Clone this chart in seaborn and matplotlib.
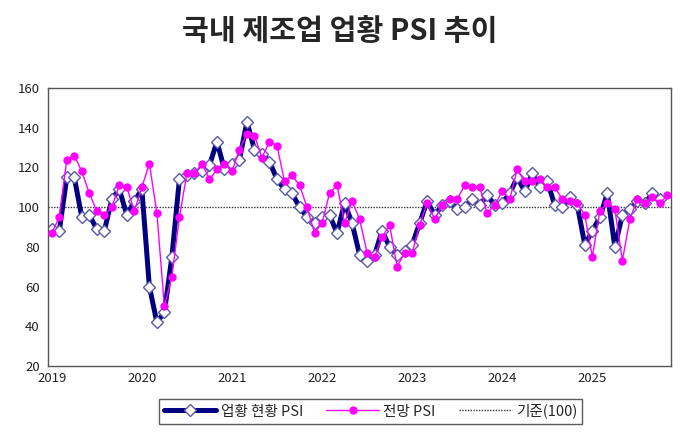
import numpy as np
import pandas as pd
import matplotlib.pyplot as plt
import seaborn as sns

# 업황 PSI, monthly from Jan 2019 (current reaches Oct 2025, outlook Nov 2025)
years = ["2019", "2020", "2021", "2022", "2023", "2024", "2025"]
current_psi = [89, 88, 115, 115, 95, 96, 89, 88, 104, 109, 96, 103,
               109, 60, 42, 47, 75, 114, 116, 117, 118, 121, 133, 119,
               122, 124, 143, 129, 127, 123, 114, 109, 107, 100, 95, 92,
               95, 96, 87, 102, 92, 76, 73, 76, 88, 80, 76, 78,
               81, 92, 103, 96, 101, 103, 99, 100, 104, 101, 106, 101,
               102, 107, 115, 108, 117, 110, 113, 101, 100, 105, 101, 81,
               88, 95, 107, 80, 96, 99, 103, 102, 107, 104]
outlook_psi = [87, 95, 124, 126, 118, 107, 98, 96, 100, 111, 110, 98,
               110, 122, 97, 50, 65, 95, 117, 117, 122, 114, 119, 122,
               118, 129, 137, 136, 125, 133, 131, 113, 116, 111, 100, 87,
               92, 107, 111, 92, 103, 94, 77, 75, 85, 91, 70, 77,
               77, 91, 102, 94, 101, 104, 104, 111, 110, 110, 97, 101,
               108, 104, 119, 113, 113, 114, 110, 110, 104, 103, 102, 96,
               75, 98, 102, 99, 73, 94, 104, 102, 105, 102, 106]
baseline = 100

n = len(outlook_psi)
df = pd.DataFrame({"month": np.arange(n), "outlook": outlook_psi})
df["current"] = pd.Series(current_psi, dtype=float)

sns.set_style("white")
plt.rcParams["font.family"] = ["Noto Sans CJK KR", "DejaVu Sans"]

fig = plt.figure(figsize=(6.8, 4.36), dpi=100)
ax = fig.add_axes([0.0706, 0.1606, 0.9164, 0.6374])

ax.axhline(baseline, color="#333333", lw=1, ls=(0, (1, 1)), zorder=1, label="기준(100)")

sns.lineplot(data=df, x="month", y="current", ax=ax, color="#000080", lw=3.6,
             marker="D", markersize=6, markerfacecolor="white",
             markeredgecolor="#5a5aa8", markeredgewidth=1, label="업황 현황 PSI", zorder=2)
sns.lineplot(data=df, x="month", y="outlook", ax=ax, color="#ff00ff", lw=1,
             marker="o", markersize=6, markeredgewidth=0, label="전망 PSI", zorder=3)

ax.set_xlim(-0.5, n - 0.5)
ax.set_ylim(20, 160)
ax.set_yticks(range(20, 161, 20))
ax.set_xticks(np.arange(0, n, 12))
ax.set_xticklabels(years)
ax.set_xticks(np.arange(-0.5, n, 1), minor=True)
ax.set_xlabel("")
ax.set_ylabel("")
ax.tick_params(axis="y", direction="in", length=4, labelsize=9.5, colors="#222222", pad=6)
ax.tick_params(axis="x", which="major", direction="in", length=0, labelsize=9.5, colors="#222222", pad=4)
ax.tick_params(axis="x", which="minor", direction="in", length=3, color="#444444")
for s in ax.spines.values():
    s.set_color("#555555")
    s.set_linewidth(1)

ax.get_legend().remove()
h, l = ax.get_legend_handles_labels()
order = [l.index("업황 현황 PSI"), l.index("전망 PSI"), l.index("기준(100)")]
fig.legend([h[i] for i in order], [l[i] for i in order], loc="center",
           bbox_to_anchor=(0.545, 0.057), ncol=3, frameon=True, fancybox=False,
           edgecolor="#333333", fontsize=10.5, handlelength=3.6, columnspacing=1.6,
           handletextpad=0.3, borderpad=0.35)

fig.text(0.5, 0.93, "국내 제조업 업황 PSI 추이", ha="center", va="center",
         fontsize=21, fontweight="bold")

fig.savefig("out.png", dpi=100)
